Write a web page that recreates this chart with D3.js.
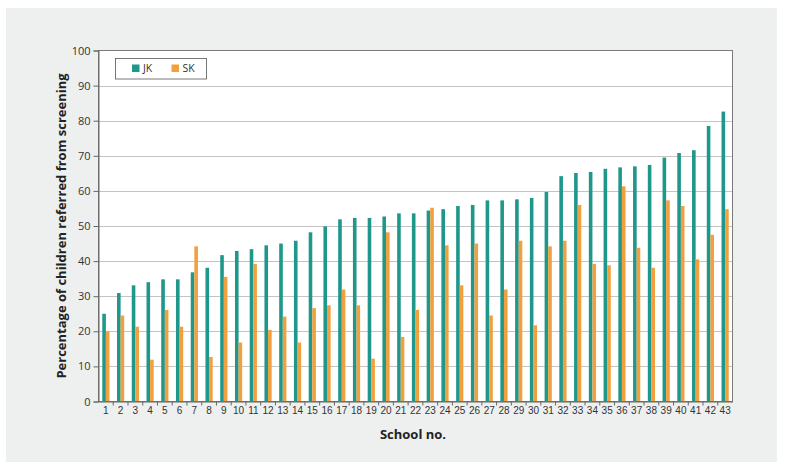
<!DOCTYPE html>
<html><head><meta charset="utf-8">
<script src="https://cdn.jsdelivr.net/npm/d3@7"></script>
<style>
html,body{margin:0;padding:0;background:#fff;}
svg{display:block;font-family:"Open Sans","Noto Sans",sans-serif;}
</style></head>
<body><svg id="c" width="791" height="469"></svg>
<script>
const schools = d3.range(1,44).map(String);
const seriesNames = ["JK","SK"];
const jk = [25.0,30.9,33.1,34.0,34.8,34.8,36.8,38.1,41.7,42.9,43.4,44.5,45.0,45.8,48.2,
  49.9,51.9,52.3,52.3,52.7,53.6,53.6,54.4,54.8,55.7,56.0,57.3,57.3,57.6,58.0,
  59.7,64.2,65.1,65.4,66.3,66.7,67.0,67.4,69.5,70.8,71.6,78.5,82.6];
const sk = [20.0,24.5,21.3,11.9,26.1,21.3,44.2,12.7,35.5,16.8,39.2,20.4,24.2,16.8,26.6,
  27.4,31.9,27.4,12.2,48.2,18.4,26.1,55.2,44.5,33.1,45.0,24.5,31.9,45.8,21.7,
  44.2,45.8,56.0,39.2,38.8,61.3,43.8,38.1,57.3,55.7,40.5,47.5,54.8];
const yTicks = [0,10,20,30,40,50,60,70,80,90,100];
const colors = {JK:"#1f978b", SK:"#f0a03e"};

const svg = d3.select("#c");
svg.append("rect").attr("x",6).attr("y",8).attr("width",771).attr("height",454).attr("fill","#eef0ef");

const L=98.5, R=732.5, T=50.5, B=401.5;
const x = d3.scaleBand().domain(schools).range([L,R]).padding(0);
const y = d3.scaleLinear().domain([0,100]).range([B,T]);
const bw = 3.6;

svg.append("rect").attr("x",L).attr("y",T).attr("width",R-L).attr("height",B-T)
  .attr("fill","#fff");

// gridlines
svg.append("g").selectAll("line").data(yTicks.filter(d=>d>0&&d<100)).join("line")
  .attr("x1",L).attr("x2",R).attr("y1",d=>Math.round(y(d))+0.5).attr("y2",d=>Math.round(y(d))+0.5)
  .attr("stroke","#c4c4c4").attr("stroke-width",1.2);

// bars
const g = svg.append("g");
g.selectAll("rect.jk").data(jk).join("rect").attr("class","jk")
  .attr("x",(d,i)=>x(schools[i])+x.bandwidth()/2-bw).attr("width",bw)
  .attr("y",d=>y(d)).attr("height",d=>B-y(d)).attr("fill",colors.JK);
g.selectAll("rect.sk").data(sk).join("rect").attr("class","sk")
  .attr("x",(d,i)=>x(schools[i])+x.bandwidth()/2).attr("width",bw)
  .attr("y",d=>y(d)).attr("height",d=>B-y(d)).attr("fill",colors.SK);

// border
svg.append("rect").attr("x",L).attr("y",T).attr("width",R-L).attr("height",B-T)
  .attr("fill","none").attr("stroke","#7a7a7a").attr("stroke-width",1);

// y axis
const ya = svg.append("g").attr("transform",`translate(${L},0)`)
  .call(d3.axisLeft(y).tickValues(yTicks).tickSize(5).tickPadding(3));
ya.select(".domain").attr("stroke","#666");
ya.selectAll(".tick line").attr("stroke","#666");
ya.selectAll("text").attr("font-size",11).attr("fill","#333").attr("font-family","'Open Sans',sans-serif");

// x axis
const xa = svg.append("g").attr("transform",`translate(0,${B})`)
  .call(d3.axisBottom(x).tickSize(0).tickPadding(5));
xa.select(".domain").attr("stroke","#666");
xa.selectAll("text").attr("font-size",10).attr("fill","#333");
svg.append("g").selectAll("line").data(schools.slice(1)).join("line")
  .attr("x1",d=>x(d)).attr("x2",d=>x(d)).attr("y1",B).attr("y2",B+4)
  .attr("stroke","#666");

// titles
svg.append("text").attr("x",413).attr("y",439).attr("text-anchor","middle")
  .attr("font-size",13).attr("font-weight","bold").attr("fill","#222").text("School no.");
svg.append("text").attr("transform","translate(66,226) rotate(-90)").attr("text-anchor","middle")
  .attr("font-size",13).attr("font-weight","bold").attr("fill","#222")
  .text("Percentage of children referred from screening");

// legend
const lg = svg.append("g");
lg.append("rect").attr("x",115.5).attr("y",58.5).attr("width",91).attr("height",20.5)
  .attr("fill","#fff").attr("stroke","#555").attr("stroke-width",0.8);
const li = lg.selectAll("g").data(seriesNames).join("g")
  .attr("transform",(d,i)=>`translate(${132+i*39.5},64.5)`);
li.append("rect").attr("width",7.5).attr("height",7.5).attr("fill",d=>colors[d]);
li.append("text").attr("x",11).attr("y",7.5).attr("font-size",10.5).attr("fill","#333").text(d=>d);
</script></body></html>
